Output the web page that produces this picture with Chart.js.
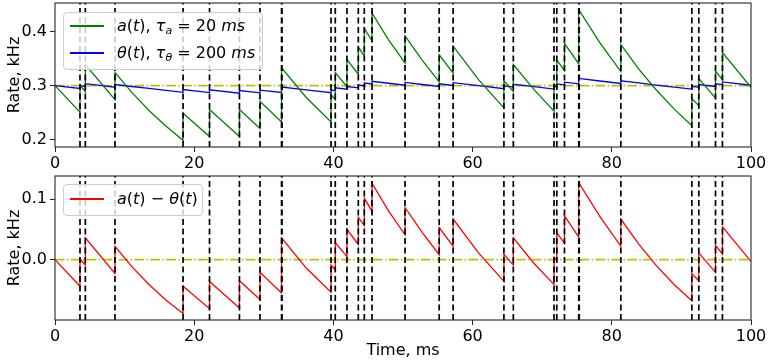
<!DOCTYPE html>
<html><head><meta charset="utf-8">
<script src="https://cdn.jsdelivr.net/npm/chart.js@4.4.1/dist/chart.umd.min.js"></script>
<style>
html,body{margin:0;padding:0;background:#fff;}
#wrap{position:relative;width:768px;height:362px;overflow:hidden;font-family:"DejaVu Sans";}
#c1{position:absolute;left:0;top:0;}
#c2{position:absolute;left:0;top:172px;}
.legend{position:absolute;background:rgba(255,255,255,0.8);border:1px solid #cccccc;border-radius:4px;box-sizing:border-box;font-family:"DejaVu Sans";font-size:16px;color:#000;}
.row{position:absolute;left:0;height:20px;width:100%;}
.sw{position:absolute;left:6px;top:9px;width:34px;height:1.6px;}
.txt{position:absolute;left:53px;top:0;line-height:20px;white-space:nowrap;}
.txt sub{font-size:11px;vertical-align:-3px;line-height:0;}
</style>
</head><body>
<div id="wrap">
<canvas id="c1" width="768" height="172"></canvas>
<canvas id="c2" width="768" height="190"></canvas>
<div class="legend" style="left:63px;top:12px;width:200px;height:58px;">
  <div class="row" style="top:3px;"><div class="sw" style="background:#008000"></div><div class="txt"><i>a</i>(<i>t</i>), <i>τ</i><sub><i>a</i></sub> = 20 <i>ms</i></div></div>
  <div class="row" style="top:30px;"><div class="sw" style="background:#0000ff"></div><div class="txt"><i>θ</i>(<i>t</i>), <i>τ</i><sub><i>θ</i></sub> = 200 <i>ms</i></div></div>
</div>
<div class="legend" style="left:63px;top:184px;width:140px;height:32px;">
  <div class="row" style="top:4px;"><div class="sw" style="background:#ff0000"></div><div class="txt"><i>a</i>(<i>t</i>) − <i>θ</i>(<i>t</i>)</div></div>
</div>
</div>
<script>
// ---- data ----
const xTicks = [0, 20, 40, 60, 80, 100];
const topYTicks = [0.2, 0.3, 0.4];
const botYTicks = [0.0, 0.1];
const xRange = [0, 100];
const topRange = [0.1867, 0.4525];
const botRange = [-0.0997, 0.138];
const targetRate = 0.3;
const zeroLevel = 0.0;

const spikeTimes = [3.59, 4.36, 8.62, 18.4, 22.2, 26.5, 29.45, 32.55, 32.62, 39.66, 40.27, 41.95, 43.58, 44.44, 45.55,
  50.29, 55.2, 57.2, 64.5, 65.85, 71.7, 72.1, 73.2, 75.25, 75.32, 81.3, 91.5, 92.5, 94.9, 95.9];

const curveTimes = [0, 3.59, 3.59, 4.36, 4.36, 8.62, 8.62, 11.07, 13.5, 15.96, 18.4, 18.4, 22.2, 22.2, 26.5, 26.5, 29.45, 29.45,
  32.55, 32.55, 36.1, 39.66, 39.66, 40.27, 40.27, 41.95, 41.95, 43.58, 43.58, 44.44, 44.44, 45.55, 45.55, 47.9,
  50.29, 50.29, 52.75, 55.2, 55.2, 57.2, 57.2, 60.85, 64.5, 64.5, 65.85, 65.85, 68.8, 71.7, 71.7, 72.1, 72.1,
  73.2, 73.2, 75.25, 75.25, 78.3, 81.3, 81.3, 83.85, 86.4, 88.95, 91.5, 91.5, 92.5, 92.5, 94.9, 94.9, 95.9, 95.9, 100];

const aValues = [0.300, 0.251, 0.301, 0.289, 0.339, 0.274, 0.324, 0.287, 0.254, 0.225, 0.199, 0.249, 0.206, 0.256, 0.206, 0.256, 0.221, 0.271,
  0.233, 0.333, 0.278, 0.233, 0.283, 0.274, 0.324, 0.298, 0.348, 0.321, 0.371, 0.355, 0.405, 0.383, 0.434, 0.385,
  0.342, 0.392, 0.347, 0.307, 0.357, 0.323, 0.373, 0.311, 0.259, 0.309, 0.289, 0.339, 0.293, 0.253, 0.303, 0.297, 0.347,
  0.328, 0.378, 0.340, 0.440, 0.379, 0.326, 0.376, 0.331, 0.292, 0.257, 0.226, 0.276, 0.263, 0.313, 0.277, 0.327, 0.311, 0.361, 0.297];

const thetaValues = [0.3000, 0.2947, 0.2997, 0.2985, 0.3035, 0.2971, 0.3021, 0.2984, 0.2948, 0.2912, 0.2877, 0.2927, 0.2872, 0.2922, 0.2860, 0.2910, 0.2867, 0.2917,
  0.2873, 0.2973, 0.2920, 0.2868, 0.2918, 0.2909, 0.2959, 0.2934, 0.2984, 0.2960, 0.3010, 0.2997, 0.3047, 0.3030, 0.3080, 0.3044,
  0.3008, 0.3058, 0.3021, 0.2984, 0.3034, 0.3004, 0.3054, 0.2999, 0.2944, 0.2994, 0.2974, 0.3024, 0.2980, 0.2937, 0.2987, 0.2981, 0.3031,
  0.3014, 0.3064, 0.3032, 0.3132, 0.3085, 0.3039, 0.3089, 0.3050, 0.3011, 0.2973, 0.2935, 0.2985, 0.2970, 0.3020, 0.2984, 0.3034, 0.3019, 0.3069, 0.3007];

const diffValues = [0.000, -0.044, 0.001, -0.009, 0.036, -0.023, 0.022, -0.012, -0.041, -0.067, -0.089, -0.044, -0.081, -0.036, -0.080, -0.035, -0.066, -0.021,
  -0.055, 0.036, -0.014, -0.054, -0.009, -0.017, 0.028, 0.005, 0.050, 0.025, 0.070, 0.056, 0.101, 0.080, 0.126, 0.081,
  0.041, 0.086, 0.045, 0.008, 0.053, 0.022, 0.067, 0.011, -0.036, 0.009, -0.009, 0.036, -0.006, -0.041, 0.004, -0.001, 0.044,
  0.027, 0.072, 0.037, 0.127, 0.071, 0.022, 0.067, 0.026, -0.010, -0.041, -0.068, -0.023, -0.035, 0.011, -0.021, 0.024, 0.009, 0.054, -0.003];

// ---- helpers ----
const FONT = {family: 'DejaVu Sans', size: 16};
const pts = (times, vals) => times.map((t, i) => ({x: t, y: vals[i]}));
const spikePts = (yr) => spikeTimes.flatMap(t => [{x: t, y: yr[0]}, {x: t, y: yr[1]}, {x: t, y: null}]);
const hline = (v) => [{x: xRange[0], y: v}, {x: xRange[1], y: v}];

const frame = {
  id: 'frame',
  afterDatasetsDraw(chart) {
    const {ctx, chartArea: a} = chart;
    ctx.save();
    ctx.strokeStyle = '#262626';
    ctx.lineWidth = 1.1;
    ctx.strokeRect(a.left, a.top, a.right - a.left, a.bottom - a.top);
    ctx.restore();
  }
};

function xScale(showTitle, h) {
  return {
    type: 'linear', min: xRange[0], max: xRange[1],
    afterBuildTicks: s => { s.ticks = xTicks.map(v => ({value: v})); },
    afterFit: s => { s.height = h; s.paddingLeft = 0; s.paddingRight = 0; },
    grid: {drawOnChartArea: false, drawTicks: true, tickLength: 5, color: '#262626', lineWidth: 1},
    border: {display: false},
    ticks: {color: '#000', font: FONT, padding: 2, maxRotation: 0, autoSkip: false, callback: v => String(v)},
    title: {display: showTitle, text: 'Time, ms', color: '#000', font: FONT, padding: {top: 0, bottom: 2}}
  };
}
function yScale(range, tickVals) {
  return {
    type: 'linear', min: range[0], max: range[1],
    afterBuildTicks: s => { s.ticks = tickVals.map(v => ({value: v})); },
    afterFit: s => { s.width = 55; s.paddingTop = 0; s.paddingBottom = 0; },
    grid: {drawOnChartArea: false, drawTicks: true, tickLength: 5, color: '#262626', lineWidth: 1},
    border: {display: false},
    ticks: {color: '#000', font: FONT, padding: 3, autoSkip: false, callback: v => Number(v).toFixed(1)},
    title: {display: true, text: 'Rate, kHz', color: '#000', font: FONT, padding: {top: 5, bottom: 0}}
  };
}
function baseOptions(xs, ys, pad) {
  return {
    responsive: false, animation: false, devicePixelRatio: 1, events: [],
    layout: {padding: pad},
    plugins: {legend: {display: false}, tooltip: {enabled: false}},
    elements: {point: {radius: 0}, line: {tension: 0}},
    scales: {x: xs, y: ys}
  };
}
const spikeStyle = {borderColor: '#000', borderWidth: 1.7, borderDash: [6, 3.5], spanGaps: false, order: 0};
const refStyle = {borderColor: '#bfbf00', borderWidth: 1.6, borderDash: [9.6, 2.4, 1.5, 2.4], order: 4};

new Chart(document.getElementById('c1'), {
  type: 'line',
  data: {datasets: [
    Object.assign({label: 'spikes', data: spikePts(topRange)}, spikeStyle),
    {label: 'a(t)', data: pts(curveTimes, aValues), borderColor: '#008000', borderWidth: 1.3, order: 1},
    {label: 'θ(t)', data: pts(curveTimes, thetaValues), borderColor: '#0000ff', borderWidth: 1.3, order: 2},
    Object.assign({label: 'target', data: hline(targetRate)}, refStyle)
  ]},
  options: baseOptions(xScale(false, 25), yScale(topRange, topYTicks), {left: 0, right: 17, top: 3, bottom: 0}),
  plugins: [frame]
});

new Chart(document.getElementById('c2'), {
  type: 'line',
  data: {datasets: [
    Object.assign({label: 'spikes', data: spikePts(botRange)}, spikeStyle),
    {label: 'a(t) − θ(t)', data: pts(curveTimes, diffValues), borderColor: '#ff0000', borderWidth: 1.3, order: 1},
    Object.assign({label: 'zero', data: hline(zeroLevel)}, refStyle)
  ]},
  options: baseOptions(xScale(true, 42), yScale(botRange, botYTicks), {left: 0, right: 17, top: 4, bottom: 0}),
  plugins: [frame]
});
</script>
</body></html>
